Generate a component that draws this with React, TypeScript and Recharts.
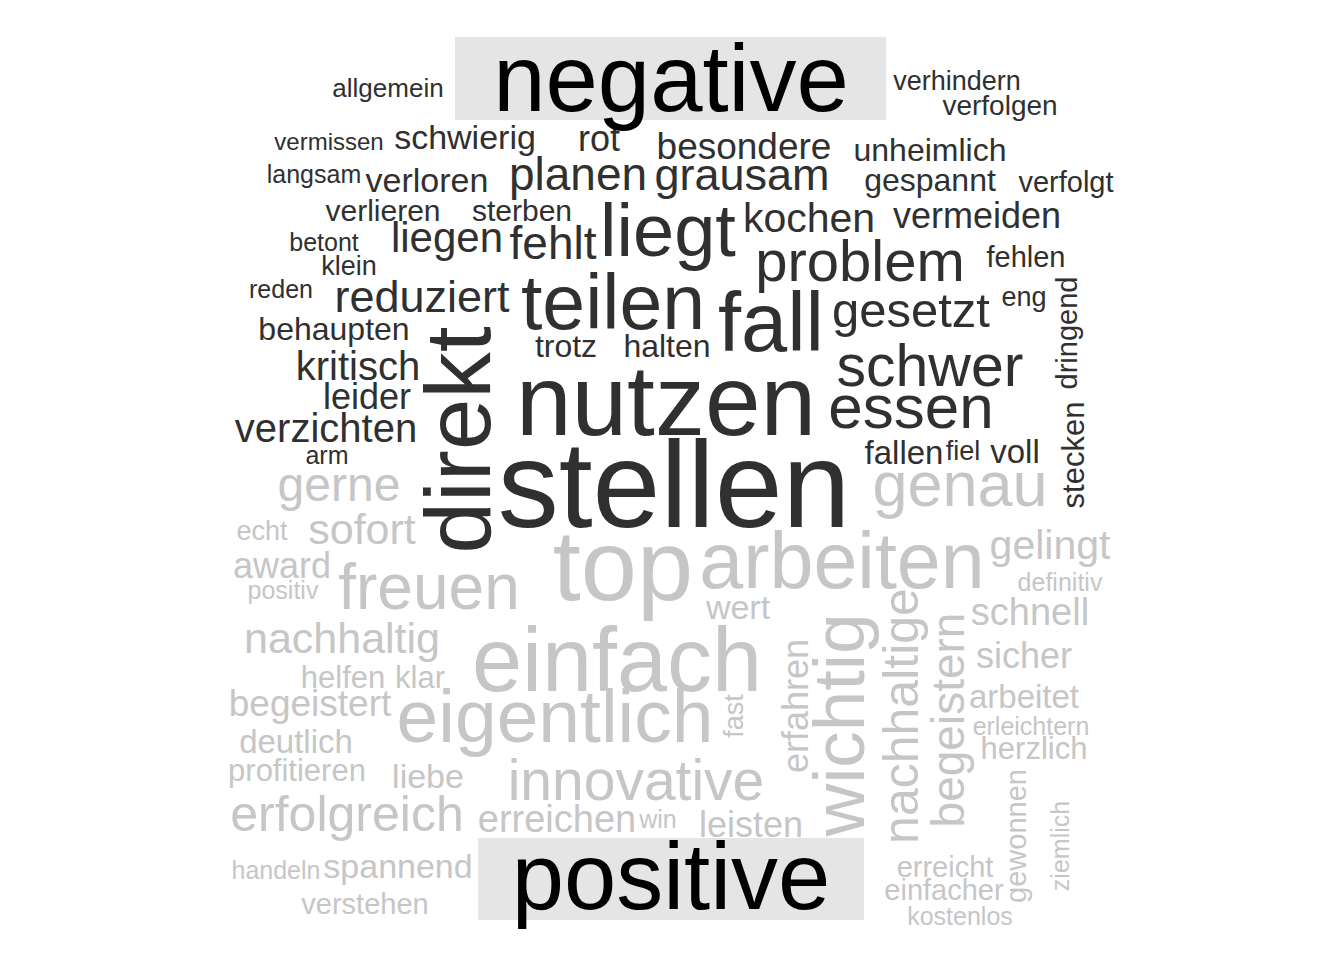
import { ReferenceArea, Scatter, ScatterChart, XAxis, YAxis } from "recharts";

// word, x, y, weight (font px), vertical?
const negativeWords: [string, number, number, number, number?][] = [
  ["allgemein", 388, 88, 26], ["verhindern", 957, 81, 27], ["verfolgen", 1000, 105, 28],
  ["vermissen", 329, 141, 24], ["schwierig", 465, 137, 34], ["rot", 599, 138, 36],
  ["besondere", 744, 146, 37], ["unheimlich", 930, 150, 32], ["langsam", 314, 174, 25],
  ["verloren", 427, 180, 34], ["planen", 578, 174, 46], ["grausam", 742, 174, 45],
  ["gespannt", 930, 180, 32], ["verfolgt", 1066, 182, 29], ["verlieren", 383, 210, 30],
  ["sterben", 522, 210, 30], ["liegt", 668, 230, 74], ["kochen", 809, 218, 41],
  ["vermeiden", 977, 215, 36], ["betont", 324, 242, 25], ["liegen", 447, 237, 42],
  ["fehlt", 553, 243, 46], ["klein", 349, 266, 27], ["problem", 860, 260, 58],
  ["fehlen", 1026, 257, 29], ["reden", 281, 289, 25], ["reduziert", 422, 296, 45],
  ["teilen", 613, 302, 77], ["fall", 771, 322, 83], ["gesetzt", 911, 310, 49],
  ["eng", 1024, 297, 27], ["dringend", 1067, 333, 29, 1], ["behaupten", 334, 329, 32],
  ["trotz", 566, 346, 32], ["halten", 667, 346, 32], ["kritisch", 358, 366, 40],
  ["schwer", 930, 366, 59], ["leider", 367, 396, 36], ["nutzen", 666, 400, 100],
  ["essen", 911, 406, 62], ["direkt", 458, 440, 93, 1], ["verzichten", 326, 428, 40],
  ["stecken", 1073, 455, 31, 1], ["arm", 327, 455, 25], ["fallen", 904, 452, 33],
  ["fiel", 963, 451, 27], ["voll", 1015, 451, 33], ["stellen", 674, 485, 122],
];

const positiveWords: [string, number, number, number, number?][] = [
  ["gerne", 339, 484, 48], ["genau", 960, 484, 63], ["echt", 262, 531, 27],
  ["sofort", 362, 529, 43], ["top", 623, 565, 101], ["arbeiten", 842, 560, 79],
  ["gelingt", 1050, 545, 41], ["award", 282, 565, 36], ["positiv", 283, 590, 25],
  ["freuen", 429, 587, 64], ["definitiv", 1060, 582, 25], ["wert", 738, 607, 34],
  ["schnell", 1030, 612, 38], ["nachhaltig", 342, 638, 43], ["einfach", 617, 660, 90],
  ["wichtig", 838, 725, 73, 1], ["erfahren", 795, 706, 36, 1], ["nachhaltige", 901, 716, 50, 1],
  ["begeistern", 948, 720, 46, 1], ["sicher", 1024, 655, 36], ["helfen", 343, 677, 31],
  ["klar", 420, 677, 31], ["begeistert", 310, 703, 37], ["eigentlich", 555, 716, 75],
  ["fast", 734, 716, 27, 1], ["arbeitet", 1024, 696, 33], ["erleichtern", 1031, 726, 25],
  ["deutlich", 296, 741, 33], ["herzlich", 1034, 748, 31], ["profitieren", 297, 770, 31],
  ["liebe", 428, 776, 34], ["innovative", 636, 780, 57], ["gewonnen", 1016, 836, 29, 1],
  ["ziemlich", 1060, 846, 25, 1], ["erfolgreich", 347, 814, 50], ["erreichen", 557, 819, 38],
  ["win", 658, 819, 25], ["leisten", 751, 824, 36], ["handeln", 276, 870, 25],
  ["spannend", 398, 866, 34], ["erreicht", 945, 867, 29], ["einfacher", 944, 890, 29],
  ["verstehen", 365, 904, 29], ["kostenlos", 960, 916, 25],
];

const groupLabels: [string, number, number, number][] = [
  ["negative", 671, 78, 94],
  ["positive", 671, 876, 94],
];

const toRows = (list: [string, number, number, number, number?][]) =>
  list.map(([word, x, y, size, vertical]) => ({ word, x, y, size, vertical: !!vertical }));

const WordShape = (color: string) => (props: any) => {
  const { cx, cy, payload } = props;
  return (
    <text
      x={cx}
      y={cy}
      fill={color}
      fontSize={payload.size}
      fontFamily="Liberation Sans, Arial, sans-serif"
      textAnchor="middle"
      dominantBaseline="central"
      transform={payload.vertical ? `rotate(-90 ${cx} ${cy})` : undefined}
    >
      {payload.word}
    </text>
  );
};

export default function App() {
  return (
    <div style={{ position: "absolute", left: 0, top: 0, background: "#fff" }}>
      <ScatterChart width={1344} height={960} margin={{ top: 0, right: 0, bottom: 0, left: 0 }}>
        <XAxis type="number" dataKey="x" domain={[0, 1344]} hide />
        <YAxis type="number" dataKey="y" domain={[0, 960]} reversed hide />
        <ReferenceArea x1={455} x2={886} y1={37} y2={120} fill="#e5e5e5" fillOpacity={1} stroke="none" />
        <ReferenceArea x1={478} x2={864} y1={838} y2={920} fill="#e5e5e5" fillOpacity={1} stroke="none" />
        <Scatter data={toRows(negativeWords)} shape={WordShape("#303030")} isAnimationActive={false} />
        <Scatter data={toRows(positiveWords)} shape={WordShape("#c6c6c6")} isAnimationActive={false} />
        <Scatter
          data={groupLabels.map(([word, x, y, size]) => ({ word, x, y, size, vertical: false }))}
          shape={WordShape("#000")}
          isAnimationActive={false}
        />
      </ScatterChart>
    </div>
  );
}
